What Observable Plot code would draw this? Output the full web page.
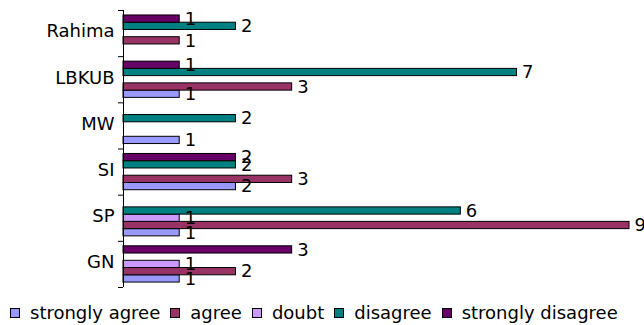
<!DOCTYPE html>
<html>
<head>
<meta charset="utf-8">
<script src="https://cdn.jsdelivr.net/npm/d3@7"></script>
<script src="https://cdn.jsdelivr.net/npm/@observablehq/plot@0.6"></script>
<style>
  html, body { margin: 0; padding: 0; background: #fff; }
  body { width: 644px; height: 325px; overflow: hidden; font-family: "DejaVu Sans", sans-serif; }
  #legend { display: flex; align-items: center; margin-top: 7px; padding-left: 10px; font-size: 18px; line-height: 22px; color: #000; white-space: nowrap; }
  #legend .sw { width: 10px; height: 10px; box-sizing: border-box; border: 1px solid #000; margin-right: 10px; flex: none; }
  #legend .lab { margin-right: 10px; }
</style>
</head>
<body>
<div id="chart"></div>
<div id="legend"></div>
<script>
// Categories (top to bottom) and series values (null = no bar)
const categories = ["Rahima", "LBKUB", "MW", "SI", "SP", "GN"];
const seriesNames = ["strongly agree", "agree", "doubt", "disagree", "strongly disagree"];
const stronglyAgree    = [null, 1, 1, 2, 1, 1];
const agree            = [1, 3, null, 3, 9, 2];
const doubt            = [null, null, null, null, 1, 1];
const disagree         = [2, 7, 2, 2, 6, null];
const stronglyDisagree = [1, 1, null, 2, null, 3];
const seriesColors = ["#9999FF", "#993366", "#CC99FF", "#008080", "#660066"];

const seriesValues = [stronglyAgree, agree, doubt, disagree, stronglyDisagree];

// Within each category band, series are stacked from bottom (strongly agree) to top (strongly disagree)
const nSeries = seriesNames.length;
const outerPad = 0.684;                         // band outer padding in slot units
const slot = 1 / (nSeries + 2 * outerPad);      // slot height as fraction of a category band

const rows = [];
categories.forEach((cat, k) => {
  seriesNames.forEach((name, j) => {
    const v = seriesValues[j][k];
    if (v == null) return;
    const s = nSeries - 1 - j;                  // slot index from top
    const y1 = k + slot * (outerPad + s);
    rows.push({category: cat, series: name, value: v, y1, y2: y1 + slot, yc: y1 + slot / 2});
  });
});

const chart = Plot.plot({
  width: 644,
  height: 295,
  marginLeft: 123,
  marginRight: 15,
  marginTop: 10,
  marginBottom: 8,
  style: {fontFamily: "DejaVu Sans", fontSize: "18px", color: "#000", background: "#fff", overflow: "visible"},
  x: {domain: [0, 9], axis: null},
  y: {domain: [0, categories.length], reverse: true, ticks: categories.length, tickSize: 5, tickFormat: () => "", label: null},
  color: {domain: seriesNames, range: seriesColors},
  marks: [
    Plot.rectX(rows, {x1: 0, x2: "value", y1: "y1", y2: "y2", fill: "series", stroke: "#000", strokeWidth: 1}),
    Plot.ruleX([0], {y1: 0, y2: categories.length, stroke: "#000"}),
    Plot.text(categories, {frameAnchor: "left", y: (d, i) => i + 0.5, text: d => d, textAnchor: "end", dx: -9, dy: -2, fontSize: 18, fill: "#000"}),
    Plot.text(rows, {x: "value", y: "yc", text: d => String(d.value), textAnchor: "start", dx: 5, fontSize: 18, fill: "#000"})
  ]
});
document.getElementById("chart").appendChild(chart);

const legend = document.getElementById("legend");
seriesNames.forEach((name, j) => {
  const sw = document.createElement("span");
  sw.className = "sw";
  sw.style.background = seriesColors[j];
  const lab = document.createElement("span");
  lab.className = "lab";
  lab.textContent = name;
  legend.appendChild(sw);
  legend.appendChild(lab);
});
</script>
</body>
</html>
